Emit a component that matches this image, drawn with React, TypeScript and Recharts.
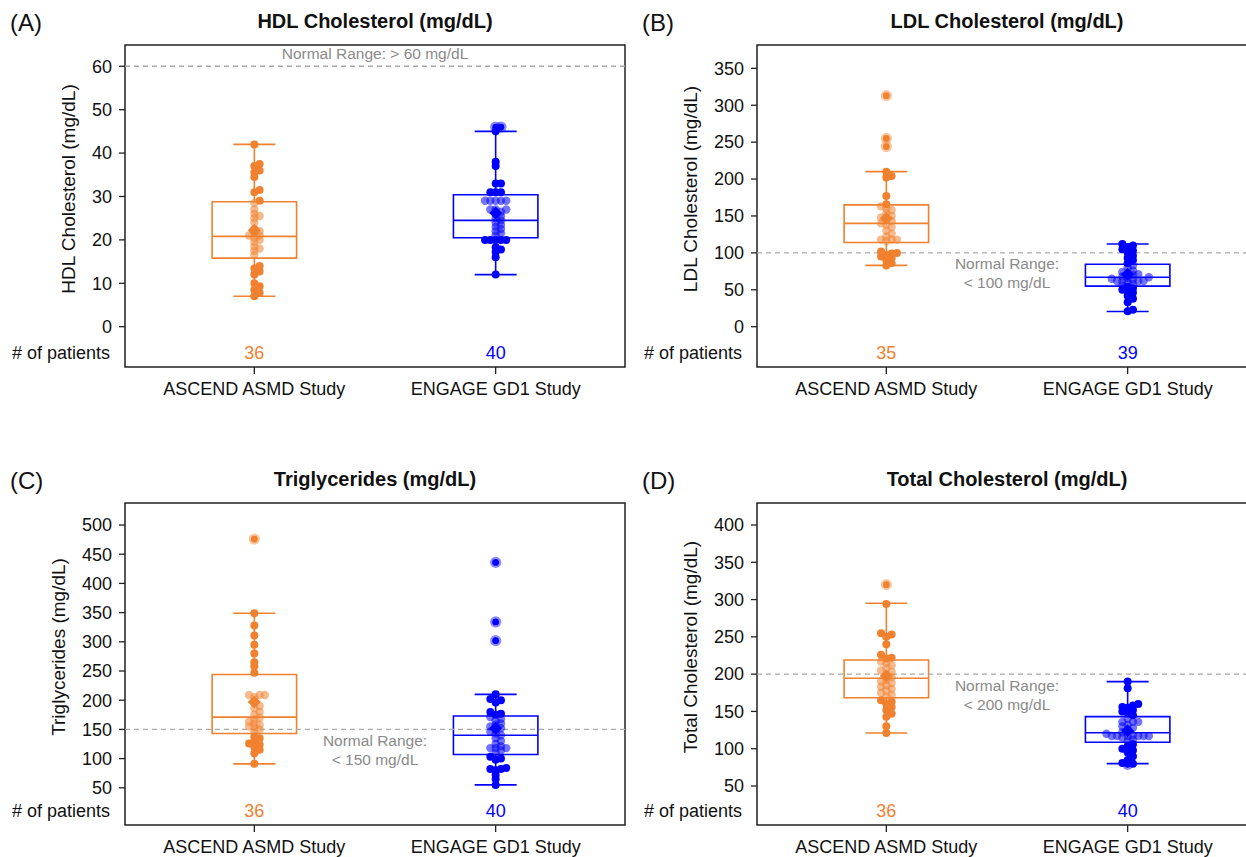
import React from 'react';
import { ComposedChart, XAxis, YAxis, Scatter, ReferenceArea, ReferenceLine, Label } from 'recharts';

// ---------- data ----------
const studies = ['ASCEND ASMD Study', 'ENGAGE GD1 Study'];
const studyColors = ['#F0812F', '#0000FF'];

const panelLetters = ['(A)', '(B)', '(C)', '(D)'];
const panelTitles = ['HDL Cholesterol (mg/dL)', 'LDL Cholesterol (mg/dL)', 'Triglycerides (mg/dL)', 'Total Cholesterol (mg/dL)'];
const yAxisTitles = ['HDL Cholesterol (mg/dL)', 'LDL Cholesterol (mg/dL)', 'Triglycerides (mg/dL)', 'Total Cholesterol (mg/dL)'];

// HDL
const hdlAscend = [7, 7.8, 8.5, 9.3, 10, 12, 12.7, 13.4, 14, 16.5, 17.5, 18, 18.5, 19.5, 20, 20.5, 21, 21, 21.5, 22, 22.5, 24, 25, 25.5, 26, 27, 28.5, 29, 31, 31.5, 34.5, 35.5, 36, 37, 37.5, 42];
const hdlEngage = [12, 16, 17.2, 17.8, 18.3, 20, 20, 20, 20, 20, 21, 21.5, 22, 22.5, 23, 23.5, 24, 24.5, 25, 25.5, 26, 26.5, 27, 27, 27, 29, 29, 29, 29, 29, 31, 31, 31, 33, 33, 37, 38, 45, 46, 46];
const hdlBoxAscend = [7, 15.8, 20.8, 28.8, 42];
const hdlBoxEngage = [12, 20.5, 24.5, 30.4, 45];
const hdlMeans = [22.2, 26.2];
const hdlCounts = [36, 40];
const hdlTicks = [0, 10, 20, 30, 40, 50, 60];
const hdlDomain = [-9.29, 64.9];
const hdlNormal = 60;
const hdlNormalText = ['Normal Range: > 60 mg/dL'];

// LDL
const ldlAscend = [83, 86, 90, 93, 95, 97, 99, 100, 102, 116, 118, 118, 118, 122, 126, 130, 135, 138, 140, 143, 145, 148, 150, 154, 158, 160, 163, 166, 177, 202, 204, 210, 244, 255, 313];
const ldlEngage = [21, 23, 33, 38, 42, 46, 48, 50, 52, 54, 56, 58, 60, 62, 62, 62, 62, 64, 65, 66, 67, 68, 70, 71, 72, 74, 76, 80, 83, 86, 90, 93, 96, 100, 103, 105, 108, 110, 112];
const ldlBoxAscend = [83, 114, 140, 165, 210];
const ldlBoxEngage = [20.5, 55, 67, 84.5, 112];
const ldlMeans = [147, 71];
const ldlCounts = [35, 39];
const ldlTicks = [0, 50, 100, 150, 200, 250, 300, 350];
const ldlDomain = [-54.6, 381.6];
const ldlNormal = 100;
const ldlNormalText = ['Normal Range:', '< 100 mg/dL'];

// Triglycerides
const tgAscend = [91, 109, 115, 120, 124, 126, 130, 135, 138, 146, 150, 153, 155, 158, 160, 163, 167, 170, 175, 180, 186, 190, 196, 205, 209, 209, 209, 247, 258, 265, 280, 295, 311, 328, 349, 476];
const tgEngage = [55, 65, 72, 80, 82, 82, 84, 98, 100, 103, 110, 114, 118, 118, 118, 121, 125, 130, 135, 140, 143, 146, 150, 152, 155, 158, 160, 165, 168, 171, 175, 177, 180, 196, 200, 202, 210, 302, 334, 436];
const tgBoxAscend = [91, 143, 171, 244, 349];
const tgBoxEngage = [55, 107, 140, 173, 210];
const tgMeans = [197, 152];
const tgCounts = [36, 40];
const tgTicks = [50, 100, 150, 200, 250, 300, 350, 400, 450, 500];
const tgDomain = [-13.7, 537.7];
const tgNormal = 150;
const tgNormalText = ['Normal Range:', '< 150 mg/dL'];

// Total cholesterol
const tcAscend = [121, 130, 143, 147, 152, 156, 160, 163, 165, 170, 172, 175, 178, 180, 183, 185, 188, 190, 192, 196, 200, 203, 205, 208, 212, 215, 217, 221, 222, 226, 240, 250, 253, 255, 294, 320];
const tcEngage = [79, 80, 81, 85, 90, 95, 98, 100, 103, 106, 110, 112, 115, 117, 117, 117, 117, 117, 117, 118, 120, 122, 125, 128, 130, 132, 136, 136, 136, 140, 145, 148, 150, 152, 155, 156, 158, 160, 181, 190];
const tcBoxAscend = [121, 168.4, 194.4, 219, 295];
const tcBoxEngage = [80, 108.6, 121.5, 143, 190];
const tcMeans = [197.5, 124];
const tcCounts = [36, 40];
const tcTicks = [50, 100, 150, 200, 250, 300, 350, 400];
const tcDomain = [-2.3, 429.5];
const tcNormal = 200;
const tcNormalText = ['Normal Range:', '< 200 mg/dL'];

const panels = [
  { series: [hdlAscend, hdlEngage], boxes: [hdlBoxAscend, hdlBoxEngage], means: hdlMeans, counts: hdlCounts, ticks: hdlTicks, domain: hdlDomain, normal: hdlNormal, normalText: hdlNormalText, textAbove: true },
  { series: [ldlAscend, ldlEngage], boxes: [ldlBoxAscend, ldlBoxEngage], means: ldlMeans, counts: ldlCounts, ticks: ldlTicks, domain: ldlDomain, normal: ldlNormal, normalText: ldlNormalText, textAbove: false },
  { series: [tgAscend, tgEngage], boxes: [tgBoxAscend, tgBoxEngage], means: tgMeans, counts: tgCounts, ticks: tgTicks, domain: tgDomain, normal: tgNormal, normalText: tgNormalText, textAbove: false },
  { series: [tcAscend, tcEngage], boxes: [tcBoxAscend, tcBoxEngage], means: tcMeans, counts: tcCounts, ticks: tcTicks, domain: tcDomain, normal: tcNormal, normalText: tcNormalText, textAbove: false },
];

// ---------- layout ----------
const FONT = '"Liberation Sans", Arial, Helvetica, sans-serif';
const W = 632;
const H = 458;
const PLOT_L = 125;
const PLOT_T = 45;
const PLOT_W = 500;
const PLOT_H = 322;
const X_MIN = 0.464;
const X_MAX = 2.536;
const BOX_HALF = 0.175;
const CAP_HALF = 0.087;
const STEP = 5.3;
const MIN_D = 3.8;

function swarm(values: number[], box: number[], domain: number[], pos: number, color: string) {
  const pxY = PLOT_H / (domain[1] - domain[0]);
  const pxX = PLOT_W / (X_MAX - X_MIN);
  const placed: { x: number; y: number }[] = [];
  const sorted = [...values].sort((a, b) => a - b);
  return sorted.map((v) => {
    const ypx = v * pxY;
    let off = 0;
    for (let i = 0; i < 80; i++) {
      const cand = i === 0 ? 0 : (i % 2 === 1 ? 1 : -1) * Math.ceil(i / 2) * STEP;
      if (placed.every((p) => Math.hypot(p.x - cand, p.y - ypx) >= MIN_D)) {
        off = cand;
        break;
      }
    }
    placed.push({ x: off, y: ypx });
    let kind = 'solid';
    if (v > box[4] || v < box[0]) kind = 'out';
    else if (v > box[1] && v < box[3]) kind = 'in';
    return { x: pos + off / pxX, y: v, kind, color };
  });
}

const DotShape = (props: any) => {
  const { cx, cy, payload } = props;
  if (cx == null || cy == null) return <g />;
  const c = payload.color;
  if (payload.kind === 'out') {
    return (
      <g>
        <circle cx={cx} cy={cy} r={5.6} fill={c} fillOpacity={0.45} />
        <circle cx={cx} cy={cy} r={3.4} fill={c} />
      </g>
    );
  }
  if (payload.kind === 'in') return <circle cx={cx} cy={cy} r={4.2} fill={c} fillOpacity={0.55} />;
  return <circle cx={cx} cy={cy} r={4} fill={c} />;
};

const DiamondShape = (props: any) => {
  const { cx, cy, payload } = props;
  if (cx == null || cy == null) return <g />;
  const s = 6.5;
  return <path d={`M${cx},${cy - s}L${cx + s},${cy}L${cx},${cy + s}L${cx - s},${cy}Z`} fill={payload.color} />;
};

function Panel({ idx }: { idx: number }) {
  const p = panels[idx];
  const maxDigits = Math.max(...p.ticks.map((t) => String(t).length));
  const labelX = PLOT_L - 13 - maxDigits * 10 - 24;
  const yTicks = [p.domain[0], ...p.ticks];

  const renderYTick = (props: any) => {
    const { x, y, payload } = props;
    if (payload.value === p.domain[0]) {
      return (
        <text x={x - 15} y={y - 14} dy="0.35em" textAnchor="end" fontSize={18} fontFamily={FONT} fill="#111">
          # of patients
        </text>
      );
    }
    return (
      <g>
        <line x1={x - 6} x2={x} y1={y} y2={y} stroke="#222" strokeWidth={1.3} />
        <text x={x - 13} y={y} dy="0.35em" textAnchor="end" fontSize={18} fontFamily={FONT} fill="#111">
          {payload.value}
        </text>
      </g>
    );
  };

  const renderXTick = (props: any) => {
    const { x, y, payload } = props;
    const i = Math.round(payload.value) - 1;
    return (
      <g>
        <line x1={x} x2={x} y1={y} y2={y + 7} stroke="#222" strokeWidth={1.3} />
        <text x={x} y={y - 14} dy="0.35em" textAnchor="middle" fontSize={18} fontFamily={FONT} fill={studyColors[i]}>
          {p.counts[i]}
        </text>
        <text x={x} y={y + 22} dy="0.35em" textAnchor="middle" fontSize={18} fontFamily={FONT} fill="#111">
          {studies[i]}
        </text>
      </g>
    );
  };

  const NormalText = (props: any) => {
    const { cx, cy } = props;
    if (cx == null || cy == null) return <g />;
    return (
      <g>
        {p.normalText.map((t, k) => (
          <text
            key={k}
            x={cx}
            y={p.textAbove ? cy - 13 : cy + 11 + k * 19}
            dy="0.35em"
            textAnchor="middle"
            fontSize={15.5}
            fontFamily={FONT}
            fill="#8a8a8a"
          >
            {t}
          </text>
        ))}
      </g>
    );
  };

  const positions = [1, 2];

  return (
    <div style={{ position: 'relative', width: W, height: H }}>
      <div style={{ position: 'absolute', left: 10, top: 8, fontSize: 24, fontFamily: FONT, color: '#111', lineHeight: '30px' }}>
        {panelLetters[idx]}
      </div>
      <div
        style={{
          position: 'absolute',
          left: PLOT_L,
          width: PLOT_W,
          top: 8,
          textAlign: 'center',
          fontSize: 20,
          fontWeight: 'bold',
          fontFamily: FONT,
          color: '#111',
          lineHeight: '26px',
        }}
      >
        {panelTitles[idx]}
      </div>
      <div style={{ position: 'absolute', left: 0, top: 0 }}>
        <ComposedChart width={W} height={H} margin={{ top: PLOT_T, right: W - PLOT_L - PLOT_W, bottom: 51, left: 0 }}>
          <XAxis
            type="number"
            dataKey="x"
            domain={[X_MIN, X_MAX]}
            allowDataOverflow
            ticks={[1, 2]}
            interval={0}
            height={40}
            axisLine={false}
            tickLine={false}
            tickSize={0}
            tickMargin={0}
            tick={renderXTick}
          />
          <YAxis
            type="number"
            dataKey="y"
            domain={p.domain}
            allowDataOverflow
            ticks={yTicks}
            interval={0}
            width={PLOT_L}
            axisLine={false}
            tickLine={false}
            tickSize={0}
            tickMargin={0}
            tick={renderYTick}
          >
            <Label
              content={() => {
                const cy = PLOT_T + PLOT_H / 2 - 17;
                return (
                  <text
                    x={labelX}
                    y={cy}
                    dy="0.35em"
                    textAnchor="middle"
                    fontSize={19}
                    fontFamily={FONT}
                    fill="#111"
                    transform={`rotate(-90 ${labelX} ${cy})`}
                  >
                    {yAxisTitles[idx]}
                  </text>
                );
              }}
            />
          </YAxis>
          <ReferenceArea x1={X_MIN} x2={X_MAX} y1={p.domain[0]} y2={p.domain[1]} fill="none" stroke="#222" strokeWidth={1.5} ifOverflow="visible" />
          <ReferenceLine y={p.normal} stroke="#aaaaaa" strokeWidth={1.3} strokeDasharray="5 4" />
          {positions.map((pos, i) => {
            const b = p.boxes[i];
            const c = studyColors[i];
            return (
              <React.Fragment key={`box${i}`}>
                <ReferenceLine segment={[{ x: pos, y: b[0] }, { x: pos, y: b[1] }]} stroke={c} strokeWidth={1.6} />
                <ReferenceLine segment={[{ x: pos, y: b[3] }, { x: pos, y: b[4] }]} stroke={c} strokeWidth={1.6} />
                <ReferenceLine segment={[{ x: pos - CAP_HALF, y: b[0] }, { x: pos + CAP_HALF, y: b[0] }]} stroke={c} strokeWidth={1.6} />
                <ReferenceLine segment={[{ x: pos - CAP_HALF, y: b[4] }, { x: pos + CAP_HALF, y: b[4] }]} stroke={c} strokeWidth={1.6} />
                <ReferenceArea x1={pos - BOX_HALF} x2={pos + BOX_HALF} y1={b[1]} y2={b[3]} fill="none" fillOpacity={0} stroke={c} strokeWidth={1.6} />
                <ReferenceLine segment={[{ x: pos - BOX_HALF, y: b[2] }, { x: pos + BOX_HALF, y: b[2] }]} stroke={c} strokeWidth={1.6} />
              </React.Fragment>
            );
          })}
          {positions.map((pos, i) => (
            <Scatter
              key={`pts${i}`}
              data={swarm(p.series[i], p.boxes[i], p.domain, pos, studyColors[i])}
              shape={DotShape}
              isAnimationActive={false}
            />
          ))}
          <Scatter
            data={positions.map((pos, i) => ({ x: pos, y: p.means[i], color: studyColors[i] }))}
            shape={DiamondShape}
            isAnimationActive={false}
          />
          <Scatter data={[{ x: 1.5, y: p.normal }]} shape={NormalText} isAnimationActive={false} />
        </ComposedChart>
      </div>
    </div>
  );
}

export default function App() {
  return (
    <div style={{ position: 'absolute', left: 0, top: 0, width: 1246, height: 857, overflow: 'hidden', background: '#fff' }}>
      <div style={{ position: 'absolute', left: 0, top: 0 }}>
        <Panel idx={0} />
      </div>
      <div style={{ position: 'absolute', left: 632, top: 0 }}>
        <Panel idx={1} />
      </div>
      <div style={{ position: 'absolute', left: 0, top: 458 }}>
        <Panel idx={2} />
      </div>
      <div style={{ position: 'absolute', left: 632, top: 458 }}>
        <Panel idx={3} />
      </div>
    </div>
  );
}
